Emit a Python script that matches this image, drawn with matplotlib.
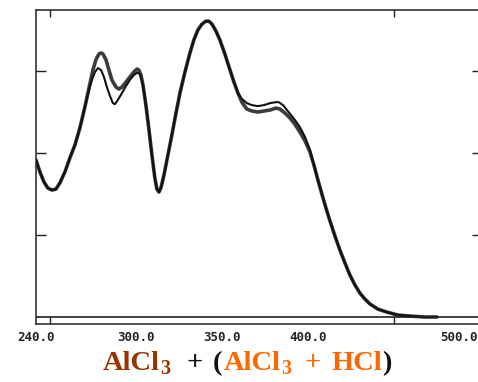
import matplotlib
matplotlib.use("Agg")
import matplotlib.pyplot as plt
from matplotlib.text import Annotation
from matplotlib.ticker import FixedLocator

# Absorbance spectra (wavelength in nm, absorbance in AU)
wl_alcl3 = [241.9, 244.2, 246.5, 248.8, 251.2, 253.5, 255.8, 258.7, 261.6, 264.5,
            267.4, 270.3, 272.7, 275.0, 276.7, 278.5, 279.7, 280.8, 282.6, 284.3,
            286.0, 288.4, 290.1, 291.9, 294.2, 296.5, 298.8, 300.6, 301.7, 302.9,
            304.1, 305.8, 307.6, 309.3, 311.0, 312.2, 313.4, 314.5, 316.3, 318.6,
            320.9, 323.3, 325.6, 328.5, 331.4, 333.7, 336.0, 338.4, 340.7, 342.4,
            344.2, 346.5, 348.8, 351.7, 354.7, 357.0, 359.3, 361.6, 364.5, 367.4,
            370.9, 374.4, 377.9, 381.4, 383.7, 386.6, 389.5, 392.4, 395.3, 398.3,
            401.2, 403.5, 405.8, 408.1, 410.5, 412.8, 415.7, 418.6, 421.5, 424.4,
            427.3, 430.2, 433.1, 436.0, 440.7, 445.9, 452.3, 459.3, 468.0, 475.0]
abs_alcl3 = [0.479, 0.442, 0.412, 0.393, 0.387, 0.390, 0.409, 0.442, 0.485, 0.524,
             0.576, 0.640, 0.698, 0.753, 0.784, 0.802, 0.805, 0.802, 0.784, 0.753,
             0.723, 0.701, 0.695, 0.701, 0.716, 0.732, 0.747, 0.756, 0.753, 0.738,
             0.707, 0.646, 0.570, 0.494, 0.424, 0.390, 0.381, 0.393, 0.433, 0.494,
             0.555, 0.622, 0.683, 0.747, 0.805, 0.845, 0.875, 0.893, 0.902, 0.902,
             0.893, 0.872, 0.845, 0.802, 0.753, 0.716, 0.683, 0.655, 0.634, 0.628,
             0.625, 0.628, 0.631, 0.637, 0.634, 0.622, 0.607, 0.588, 0.564, 0.537,
             0.503, 0.463, 0.418, 0.375, 0.332, 0.293, 0.247, 0.204, 0.165, 0.128,
             0.098, 0.073, 0.055, 0.040, 0.024, 0.015, 0.006, 0.003, 0.0, 0.0]

wl_alcl3_hcl = [241.9, 244.2, 246.5, 248.8, 251.2, 253.5, 255.8, 258.7, 261.6, 264.5,
                267.4, 270.3, 272.7, 274.4, 276.2, 277.9, 279.7, 281.4, 283.1, 284.9,
                286.6, 287.8, 289.5, 291.9, 294.2, 296.5, 298.8, 300.6, 301.7, 302.9,
                304.1, 305.8, 307.6, 309.3, 311.0, 312.2, 313.4, 314.5, 316.3, 318.6,
                320.9, 323.3, 325.6, 328.5, 331.4, 333.7, 336.0, 338.4, 340.7, 342.4,
                344.2, 346.5, 348.8, 351.7, 354.7, 357.0, 359.3, 361.6, 364.5, 367.4,
                370.9, 374.4, 377.9, 381.4, 383.1, 385.5, 387.8, 390.1, 392.4, 395.3,
                398.3, 401.2, 403.5, 405.8, 408.1, 410.5, 412.8, 415.7, 418.6, 421.5,
                424.4, 427.3, 430.2, 433.1, 436.0, 440.7, 445.9, 452.3, 459.3, 468.0, 475.0]
abs_alcl3_hcl = [0.479, 0.442, 0.412, 0.393, 0.387, 0.390, 0.409, 0.442, 0.485, 0.524,
                 0.576, 0.640, 0.692, 0.723, 0.747, 0.759, 0.753, 0.732, 0.701, 0.674,
                 0.652, 0.649, 0.662, 0.683, 0.704, 0.723, 0.738, 0.744, 0.744, 0.732,
                 0.707, 0.646, 0.570, 0.494, 0.424, 0.390, 0.381, 0.393, 0.433, 0.494,
                 0.555, 0.622, 0.683, 0.747, 0.805, 0.845, 0.875, 0.893, 0.902, 0.902,
                 0.893, 0.872, 0.845, 0.802, 0.753, 0.716, 0.683, 0.665, 0.652, 0.646,
                 0.643, 0.646, 0.652, 0.655, 0.655, 0.646, 0.631, 0.616, 0.601, 0.579,
                 0.549, 0.509, 0.463, 0.418, 0.375, 0.332, 0.293, 0.247, 0.204, 0.165,
                 0.128, 0.098, 0.073, 0.055, 0.040, 0.024, 0.015, 0.006, 0.003, 0.0, 0.0]

# Axis ticks and labels
x_mark_ticks = [250, 300, 350, 400, 450, 500]
x_label_pos = [241.9, 300, 350, 400, 498.5]
x_label_text = ["240.0", "300.0", "350.0", "400.0", "500.0"]
y_ticks = [0.25, 0.50, 0.75]

W, H = 478, 382
fig = plt.figure(figsize=(W / 100, H / 100), dpi=100)
fig.patch.set_facecolor("white")

left_px, right_px, top_px, bottom_px = 36, 482, 10, 324
ax = fig.add_axes([left_px / W, (H - bottom_px) / H,
                   (right_px - left_px) / W, (bottom_px - top_px) / H])

line_kw = dict(solid_capstyle="round", solid_joinstyle="round")
ax.plot(wl_alcl3, abs_alcl3, color="#3c3c3c", lw=2.6, **line_kw)
ax.plot(wl_alcl3_hcl, abs_alcl3_hcl, color="#111111", lw=1.5, **line_kw)
ax.axhline(0.0, color="#222222", lw=1.2)

ax.set_xlim(241.9, 501.2)
ax.set_ylim(-0.0213, 0.936)

for s in ax.spines.values():
    s.set_color("#222222")
    s.set_linewidth(1.1)
ax.spines["right"].set_visible(False)

# Wavelength labels without marks; short inward marks every 50 nm
ax.xaxis.set_major_locator(FixedLocator(x_label_pos))
ax.set_xticklabels(x_label_text, family="DejaVu Sans Mono", fontweight="bold",
                   fontsize=9, color="#222222")
ax.xaxis.set_minor_locator(FixedLocator(x_mark_ticks))
ax.tick_params(axis="x", which="major", length=0, pad=5)
ax.tick_params(axis="x", which="minor", direction="in", length=5, width=1.0,
               color="#222222", top=True, bottom=True)
ax.get_xticklabels()[-1].set_horizontalalignment("right")

ax.set_yticks(y_ticks)
ax.set_yticklabels([])
ax.tick_params(axis="y", direction="in", length=7, width=1.0, color="#222222",
               left=True, right=True)

# Caption with coloured segments: (text, colour, gap before in pt, subscript)
brown, orange, black = "#993300", "#FF6600", "#111111"
caption = [
    ("AlCl", brown, 0.0, False),
    ("3", brown, 0.0, True),
    ("+", black, 11.5, False),
    ("(", black, 7.2, False),
    ("AlCl", orange, 1.4, False),
    ("3", orange, 0.0, True),
    ("+", orange, 10.0, False),
    ("HCl", orange, 7.2, False),
    (")", black, 0.0, False),
]
fs, sub_fs = 20.5, 14.5
font = dict(family="Liberation Serif", fontweight="bold")

first_txt, first_col = caption[0][0], caption[0][1]
prev = fig.text(103 / W, (H - 370) / H, first_txt, color=first_col,
                fontsize=fs, ha="left", va="baseline", **font)
base = prev
for txt, col, gap, sub in caption[1:]:
    piece = Annotation(txt, xy=(1, 0), xycoords=(prev, base),
                       xytext=(gap, -2.5 if sub else 0), textcoords="offset points",
                       ha="left", va="bottom", color=col,
                       fontsize=sub_fs if sub else fs, **font)
    fig.add_artist(piece)
    prev = piece
    if not sub:
        base = piece

fig.savefig("out.png", dpi=100, facecolor="white")
